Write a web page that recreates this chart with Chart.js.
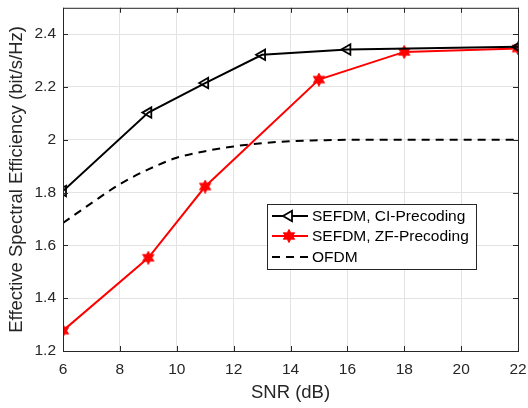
<!DOCTYPE html>
<html>
<head>
<meta charset="utf-8">
<script src="https://cdn.jsdelivr.net/npm/chart.js@4"></script>
<style>
  html, body { margin: 0; padding: 0; background: #fff; }
  #wrap { width: 528px; height: 408px; }
</style>
</head>
<body>
<div id="wrap"><canvas id="chart" width="528" height="408"></canvas></div>
<script>
// data
const ciSnr = [6, 9, 11, 13, 16, 22];
const ciValues = [1.806, 2.103, 2.215, 2.322, 2.342, 2.352];

const zfSnr = [6, 9, 11, 15, 18, 22];
const zfValues = [1.277, 1.553, 1.823, 2.228, 2.333, 2.346];

const ofdmSnr = [6, 7, 8, 9, 10, 11, 12, 13, 14, 15, 16, 17, 18, 19, 20, 21, 22];
const ofdmValues = [1.685, 1.76, 1.832, 1.888, 1.932, 1.957, 1.975, 1.987, 1.995, 1.998, 2.0, 2.0, 2.0, 2.0, 2.0, 2.0, 2.0];

const xTicks = [6, 8, 10, 12, 14, 16, 18, 20, 22];
const yTicks = [1.2, 1.4, 1.6, 1.8, 2.0, 2.2, 2.4];

const legendLabels = ['SEFDM, CI-Precoding', 'SEFDM, ZF-Precoding', 'OFDM'];

const FONT = '"Liberation Sans", Arial, Helvetica, sans-serif';

// hexagram marker like matlab 'h'
function makeStar(size, color) {
    const c = document.createElement('canvas');
    c.width = size; c.height = size;
    const ctx = c.getContext('2d');
    const cx = size / 2, cy = size / 2, ro = size / 2 - 0.5, ri = ro * 0.55;
    ctx.beginPath();
    for (let i = 0; i < 12; i++) {
        const a = -Math.PI / 2 + i * Math.PI / 6;
        const r = i % 2 === 0 ? ro : ri;
        const px = cx + r * Math.cos(a), py = cy + r * Math.sin(a);
        if (i === 0) ctx.moveTo(px, py); else ctx.lineTo(px, py);
    }
    ctx.closePath();
    ctx.fillStyle = color;
    ctx.fill();
    ctx.strokeStyle = color;
    ctx.lineWidth = 1;
    ctx.stroke();
    return c;
}
const starImg = makeStar(14, '#ff0000');

const toPts = (xs, ys) => xs.map((x, i) => ({ x: x, y: ys[i] }));

// box with inward ticks, matlab style
const boxPlugin = {
    id: 'box',
    afterDatasetsDraw(chart) {
        const { ctx, chartArea: a, scales } = chart;
        ctx.save();
        ctx.strokeStyle = '#262626';
        ctx.lineWidth = 1;
        ctx.strokeRect(a.left + 0.5, a.top + 0.5, a.right - a.left, a.bottom - a.top);
        ctx.beginPath();
        const tl = 5;
        xTicks.forEach(v => {
            const px = Math.round(scales.x.getPixelForValue(v)) + 0.5;
            ctx.moveTo(px, a.bottom); ctx.lineTo(px, a.bottom - tl);
            ctx.moveTo(px, a.top); ctx.lineTo(px, a.top + tl);
        });
        yTicks.forEach(v => {
            const py = Math.round(scales.y.getPixelForValue(v)) + 0.5;
            ctx.moveTo(a.left, py); ctx.lineTo(a.left + tl, py);
            ctx.moveTo(a.right, py); ctx.lineTo(a.right - tl, py);
        });
        ctx.stroke();
        ctx.restore();
    }
};

// legend box inside the plot
const legendPlugin = {
    id: 'boxLegend',
    afterDraw(chart) {
        const ctx = chart.ctx;
        const bx = 267, by = 204, bw = 209, bh = 65;
        ctx.save();
        ctx.fillStyle = '#fff';
        ctx.fillRect(bx, by, bw, bh);
        ctx.strokeStyle = '#262626';
        ctx.lineWidth = 1;
        ctx.strokeRect(bx + 0.5, by + 0.5, bw, bh);
        const rows = [216, 236, 257];
        chart.data.datasets.forEach((ds, i) => {
            const y = rows[i];
            ctx.beginPath();
            ctx.strokeStyle = ds.borderColor;
            ctx.lineWidth = ds.borderWidth;
            ctx.setLineDash(ds.borderDash || []);
            ctx.moveTo(272, y); ctx.lineTo(308, y);
            ctx.stroke();
            ctx.setLineDash([]);
            if (ds.pointStyle === 'triangle') {
                ctx.lineWidth = ds.pointBorderWidth;
                Chart.helpers.drawPoint(ctx, {
                    pointStyle: 'triangle', radius: ds.pointRadius, rotation: -90,
                    borderWidth: ds.pointBorderWidth
                }, 289, y);
            } else if (ds.pointStyle && ds.pointStyle.getContext) {
                ctx.drawImage(ds.pointStyle, 289 - 7, y - 7);
            }
            ctx.fillStyle = '#000';
            ctx.font = '15.5px ' + FONT;
            ctx.textBaseline = 'middle';
            ctx.fillText(legendLabels[i], 312, y + 1);
        });
        ctx.restore();
    }
};

new Chart(document.getElementById('chart'), {
    type: 'line',
    data: {
        datasets: [
            {
                label: legendLabels[0],
                data: toPts(ciSnr, ciValues),
                borderColor: '#000000',
                backgroundColor: 'rgba(0,0,0,0)',
                borderWidth: 2,
                pointStyle: 'triangle',
                pointRotation: -90,
                pointRadius: 6,
                pointBorderWidth: 1.8,
                pointBorderColor: '#000000',
                tension: 0
            },
            {
                label: legendLabels[1],
                data: toPts(zfSnr, zfValues),
                borderColor: '#ff0000',
                backgroundColor: '#ff0000',
                borderWidth: 2,
                pointStyle: starImg,
                tension: 0
            },
            {
                label: legendLabels[2],
                data: toPts(ofdmSnr, ofdmValues),
                borderColor: '#000000',
                borderWidth: 2,
                borderDash: [8, 6],
                pointRadius: 0,
                cubicInterpolationMode: 'monotone'
            }
        ]
    },
    options: {
        responsive: false,
        animation: false,
        layout: { padding: { top: 6, right: 10, left: 0, bottom: 0 } },
        plugins: {
            legend: { display: false },
            tooltip: { enabled: false }
        },
        scales: {
            x: {
                type: 'linear',
                min: 6, max: 22,
                afterBuildTicks: s => { s.ticks = xTicks.map(v => ({ value: v })); },
                afterFit: s => { s.height = 57; s.paddingLeft = 0; s.paddingRight = 0; },
                grid: { color: '#e3e3e3', drawTicks: false },
                border: { display: false },
                ticks: { color: '#262626', font: { family: FONT, size: 15.5 }, padding: 9, maxRotation: 0 },
                title: { display: true, text: 'SNR (dB)', color: '#262626', font: { family: FONT, size: 18.5 }, padding: { top: 3 } }
            },
            y: {
                min: 1.2, max: 2.5,
                afterBuildTicks: s => { s.ticks = yTicks.map(v => ({ value: v })); },
                afterFit: s => { s.width = 63; s.paddingTop = 0; s.paddingBottom = 0; },
                grid: { color: '#e3e3e3', drawTicks: false },
                border: { display: false },
                ticks: {
                    color: '#262626', font: { family: FONT, size: 15.5 }, padding: 7,
                    callback: v => (Math.abs(v - 2) < 1e-9 ? '2' : v.toFixed(1))
                },
                title: { display: true, text: 'Effective Spectral Efficiency (bit/s/Hz)', color: '#262626', font: { family: FONT, size: 18.5 }, padding: { top: 6, bottom: 2 } }
            }
        }
    },
    plugins: [boxPlugin, legendPlugin]
});
</script>
</body>
</html>
